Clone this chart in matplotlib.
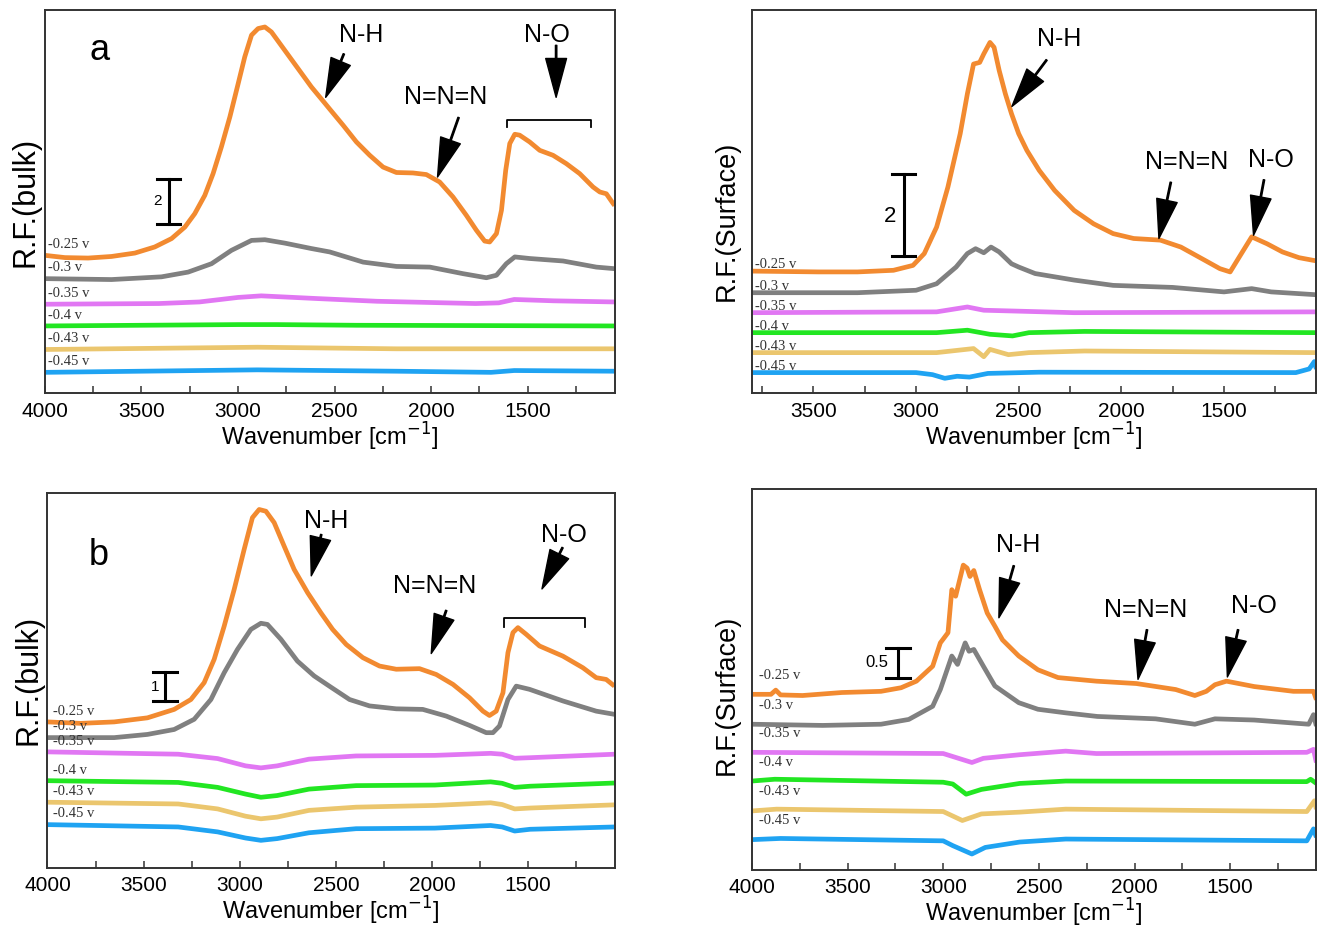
import matplotlib
matplotlib.use('Agg')
import matplotlib.pyplot as plt
import numpy as np

# potential labels and trace colours, top trace first
volts = ['-0.25 v', '-0.3 v', '-0.35 v', '-0.4 v', '-0.43 v', '-0.45 v']
colors = ['#f28a30', '#808080', '#e177f3', '#22e622', '#ebc66e', '#1fa3f2']

# (a) bulk, (wavenumber, R.F.) with stacking offset included
bulk_a_025 = [(4000, 6.10), (3896, 6.00), (3776, 5.98), (3655, 6.05), (3534, 6.20), (3431, 6.47),
              (3344, 6.84), (3275, 7.35), (3224, 7.94), (3172, 8.75), (3129, 9.71), (3086, 10.89),
              (3042, 12.22), (2999, 13.69), (2965, 14.87), (2930, 15.83), (2896, 16.12), (2861, 16.19),
              (2827, 15.97), (2758, 15.16), (2689, 14.35), (2620, 13.54), (2551, 12.83), (2525, 12.56),
              (2456, 11.85), (2387, 11.11), (2318, 10.52), (2249, 10.00), (2180, 9.76), (2094, 9.74),
              (2025, 9.67), (1956, 9.34), (1887, 8.68), (1818, 7.87), (1766, 7.21), (1723, 6.73),
              (1697, 6.69), (1662, 7.06), (1636, 8.09), (1614, 9.86), (1593, 11.04), (1567, 11.45),
              (1542, 11.41), (1490, 11.11), (1438, 10.74), (1369, 10.52), (1300, 10.15), (1231, 9.71),
              (1162, 9.12), (1127, 8.90), (1093, 8.82), (1058, 8.39), (1050, 8.30)]
bulk_a_030 = [(4000, 5.07), (3655, 5.03), (3396, 5.15), (3258, 5.36), (3137, 5.73), (3034, 6.32),
              (2930, 6.76), (2861, 6.79), (2758, 6.64), (2620, 6.40), (2525, 6.25), (2352, 5.80),
              (2180, 5.61), (2007, 5.58), (1835, 5.29), (1714, 5.11), (1662, 5.22), (1611, 5.73),
              (1567, 6.03), (1490, 5.96), (1317, 5.85), (1145, 5.58), (1050, 5.51)]
bulk_a_035 = [(4000, 3.94), (3410, 3.97), (3200, 4.04), (3000, 4.24), (2880, 4.31), (2590, 4.19),
              (2280, 4.07), (1770, 3.97), (1650, 4.00), (1570, 4.15), (1365, 4.09), (1050, 4.04)]
bulk_a_040 = [(4000, 2.98), (3000, 3.04), (2800, 3.04), (2385, 3.01), (1050, 2.98)]
bulk_a_043 = [(4000, 1.94), (2900, 2.04), (2180, 1.97), (1050, 1.97)]
bulk_a_045 = [(4000, 0.93), (2900, 1.04), (2180, 0.98), (1690, 0.93), (1570, 1.01), (1050, 0.98)]

# (a) surface
surf_a_025 = [(3800, 3.00), (3475, 2.98), (3285, 2.98), (3110, 3.02), (3015, 3.14), (2960, 3.43),
              (2900, 4.08), (2845, 5.06), (2785, 6.37), (2750, 7.35), (2720, 8.08), (2690, 8.12),
              (2670, 8.33), (2640, 8.61), (2620, 8.49), (2595, 7.92), (2565, 7.35), (2535, 6.86),
              (2500, 6.37), (2460, 5.96), (2400, 5.47), (2325, 4.98), (2230, 4.49), (2135, 4.16),
              (2040, 3.92), (1940, 3.80), (1810, 3.76), (1710, 3.59), (1595, 3.27), (1520, 3.06),
              (1470, 2.98), (1425, 3.35), (1365, 3.84), (1290, 3.67), (1215, 3.47), (1135, 3.33),
              (1050, 3.25)]
surf_a_030 = [(3800, 2.47), (3285, 2.47), (3000, 2.53), (2900, 2.69), (2805, 3.10), (2750, 3.43),
              (2710, 3.55), (2670, 3.45), (2635, 3.59), (2595, 3.47), (2535, 3.18), (2500, 3.10),
              (2420, 2.94), (2230, 2.78), (2040, 2.65), (1750, 2.60), (1500, 2.49), (1365, 2.57),
              (1270, 2.49), (1050, 2.42)]
surf_a_035 = [(3800, 1.98), (2900, 2.00), (2750, 2.12), (2670, 2.04), (2520, 2.02), (2230, 1.98),
              (1050, 2.00)]
surf_a_040 = [(3800, 1.49), (2900, 1.49), (2750, 1.55), (2640, 1.45), (2530, 1.41), (2450, 1.49),
              (2180, 1.52), (1050, 1.49)]
surf_a_043 = [(3800, 1.00), (2900, 1.00), (2720, 1.10), (2670, 0.90), (2640, 1.08), (2550, 0.95),
              (2450, 1.00), (2180, 1.04), (1050, 1.00)]
surf_a_045 = [(3800, 0.51), (3000, 0.51), (2920, 0.46), (2860, 0.37), (2800, 0.42), (2740, 0.40),
              (2650, 0.49), (2400, 0.52), (1150, 0.51), (1085, 0.60), (1060, 0.78), (1050, 0.60)]

# (b) bulk
bulk_b_025 = [(4000, 5.01), (3827, 4.96), (3653, 5.01), (3480, 5.15), (3341, 5.44), (3254, 5.78),
              (3185, 6.36), (3133, 7.16), (3081, 8.30), (3029, 9.56), (2977, 10.94), (2934, 12.03),
              (2899, 12.31), (2864, 12.25), (2821, 11.86), (2769, 11.05), (2717, 10.25), (2647, 9.45),
              (2578, 8.76), (2517, 8.19), (2446, 7.67), (2360, 7.22), (2273, 6.93), (2186, 6.82),
              (2065, 6.84), (1978, 6.64), (1891, 6.30), (1805, 5.84), (1735, 5.38), (1701, 5.23),
              (1666, 5.38), (1631, 6.01), (1605, 7.39), (1579, 8.08), (1553, 8.25), (1510, 8.02),
              (1441, 7.62), (1319, 7.27), (1215, 6.87), (1146, 6.53), (1094, 6.47), (1051, 6.24)]
bulk_b_030 = [(4000, 4.47), (3653, 4.47), (3480, 4.58), (3341, 4.75), (3237, 5.10), (3150, 5.78),
              (3081, 6.70), (3012, 7.50), (2942, 8.19), (2890, 8.40), (2856, 8.36), (2786, 7.85),
              (2700, 7.10), (2613, 6.59), (2525, 6.20), (2429, 5.78), (2325, 5.56), (2186, 5.46),
              (2048, 5.44), (1926, 5.21), (1805, 4.89), (1718, 4.64), (1683, 4.64), (1649, 4.87),
              (1605, 5.78), (1562, 6.24), (1493, 6.13), (1319, 5.73), (1146, 5.38), (1051, 5.27)]
bulk_b_035 = [(4000, 3.98), (3320, 3.90), (3115, 3.75), (2970, 3.50), (2890, 3.43), (2805, 3.50),
              (2640, 3.73), (2395, 3.84), (1985, 3.86), (1695, 3.93), (1635, 3.90), (1570, 3.76),
              (1490, 3.78), (1050, 3.90)]
bulk_b_040 = [(4000, 2.99), (3320, 2.93), (3115, 2.76), (2970, 2.53), (2890, 2.42), (2805, 2.48),
              (2640, 2.70), (2395, 2.82), (1985, 2.84), (1695, 2.95), (1635, 2.90), (1570, 2.76),
              (1490, 2.80), (1050, 2.91)]
bulk_b_043 = [(4000, 2.25), (3320, 2.19), (3115, 2.02), (2970, 1.77), (2890, 1.68), (2805, 1.74),
              (2640, 1.97), (2395, 2.08), (1985, 2.14), (1695, 2.23), (1635, 2.17), (1570, 2.02),
              (1490, 2.05), (1050, 2.16)]
bulk_b_045 = [(4000, 1.48), (3320, 1.40), (3115, 1.23), (2970, 1.02), (2890, 0.94), (2805, 1.00),
              (2640, 1.20), (2395, 1.34), (1985, 1.36), (1695, 1.45), (1635, 1.40), (1570, 1.26),
              (1490, 1.32), (1050, 1.40)]

# (b) surface
surf_b_025 = [(4000, 2.93), (3900, 2.93), (3875, 3.00), (3850, 2.92), (3735, 2.91), (3530, 2.96),
              (3325, 2.98), (3220, 3.04), (3140, 3.15), (3055, 3.40), (3015, 3.79), (2975, 3.96),
              (2955, 4.68), (2935, 4.57), (2895, 5.09), (2875, 5.04), (2860, 4.90), (2840, 5.00),
              (2810, 4.68), (2770, 4.29), (2730, 4.07), (2690, 3.84), (2605, 3.57), (2505, 3.34),
              (2400, 3.21), (2200, 3.15), (1990, 3.11), (1785, 3.01), (1685, 2.91), (1625, 2.98),
              (1580, 3.09), (1520, 3.15), (1375, 3.06), (1170, 2.98), (1065, 2.98), (1050, 2.84)]
surf_b_030 = [(4000, 2.43), (3630, 2.41), (3325, 2.43), (3180, 2.51), (3055, 2.73), (3015, 3.01),
              (2955, 3.57), (2925, 3.43), (2885, 3.79), (2865, 3.65), (2840, 3.68), (2790, 3.40),
              (2730, 3.07), (2605, 2.79), (2505, 2.68), (2360, 2.62), (2195, 2.56), (1890, 2.52),
              (1685, 2.43), (1580, 2.52), (1375, 2.50), (1090, 2.43), (1065, 2.59), (1050, 2.40)]
surf_b_035 = [(4000, 1.96), (3000, 1.94), (2930, 1.87), (2850, 1.79), (2790, 1.86), (2600, 1.92),
              (2360, 1.98), (2200, 1.94), (1100, 1.96), (1065, 2.01), (1050, 1.79)]
surf_b_040 = [(4000, 1.48), (3880, 1.51), (3000, 1.46), (2950, 1.43), (2880, 1.26), (2800, 1.34),
              (2600, 1.44), (2360, 1.48), (1100, 1.47), (1080, 1.51), (1050, 1.44)]
surf_b_043 = [(4000, 0.98), (3870, 1.01), (3000, 0.97), (2900, 0.82), (2800, 0.93), (2600, 0.96),
              (2360, 1.01), (1100, 0.97), (1060, 1.15), (1050, 1.01)]
surf_b_045 = [(4000, 0.50), (3850, 0.52), (3000, 0.48), (2950, 0.40), (2850, 0.26), (2780, 0.37),
              (2600, 0.46), (2360, 0.51), (1100, 0.48), (1065, 0.68), (1050, 0.54)]

SANS = 'Liberation Sans'
SERIF = 'Liberation Serif'

fig = plt.figure(figsize=(13.19, 9.30), dpi=100)


def panel(rect, curves, xlim, ylim, ylabel, ysize, lab_off, ylab_y=None):
    ax = fig.add_axes(rect)
    for pts, c, v in zip(curves, colors, volts):
        wn, rf = np.array(pts).T
        ax.plot(wn, rf, color=c, lw=3.4, solid_joinstyle='round', solid_capstyle='butt')
        ax.annotate(v, xy=(0, rf[0]), xycoords=('axes fraction', 'data'),
                    xytext=lab_off, textcoords='offset points',
                    family=SERIF, fontsize=10.5, color='#333333', va='bottom', ha='left')
    ax.set_xlim(*xlim)
    ax.set_ylim(*ylim)
    ax.set_yticks([])
    ax.set_xticks([t for t in range(4000, 1000, -500) if xlim[1] <= t <= xlim[0]])
    ax.set_xticks([t for t in range(3750, 1000, -500) if xlim[1] <= t <= xlim[0]], minor=True)
    ax.tick_params(axis='x', which='both', direction='in', length=5, width=1.1,
                   color='#333333', pad=6, labelsize=15)
    for lab in ax.get_xticklabels():
        lab.set_family(SANS)
    for s in ax.spines.values():
        s.set_linewidth(1.4)
        s.set_color('#333333')
    ax.set_xlabel('Wavenumber [cm$^{-1}$]', family=SANS, fontsize=17, labelpad=0)
    ax.set_ylabel(ylabel, family=SANS, fontsize=ysize, labelpad=3)
    if ylab_y is not None:
        ax.yaxis.set_label_coords(-0.022, ylab_y)
    return ax


def arrow(ax, tail, tip):
    ax.annotate('', xy=tip, xytext=tail,
                arrowprops=dict(facecolor='k', edgecolor='k', width=1.0,
                                headwidth=15, headlength=28, shrink=0))


def scale_bar(ax, x, y0, y1, dx, text, fs, tx, ty):
    ax.plot([x, x], [y0, y1], color='k', lw=2.2)
    ax.plot([x - dx, x + dx], [y0, y0], color='k', lw=2.2)
    ax.plot([x - dx, x + dx], [y1, y1], color='k', lw=2.2)
    ax.text(tx, ty, text, family=SANS, fontsize=fs, ha='center', va='center')


def bracket(ax, x0, x1, y, ylo):
    ax.plot([x0, x0, x1, x1], [ylo, y, y, ylo], color='k', lw=1.3)


def label(ax, x, y, s, fs=18):
    ax.text(x, y, s, family=SANS, fontsize=fs, ha='center', va='center')


# (a) bulk
ax = panel([0.034, 0.577, 0.432, 0.412],
           [bulk_a_025, bulk_a_030, bulk_a_035, bulk_a_040, bulk_a_043, bulk_a_045],
           (4000, 1050), (0, 16.93), 'R.F.(bulk)', 22, (2, 3))
label(ax, 3717, 15.16, 'a', 26)
label(ax, 2362, 15.82, 'N-H')
arrow(ax, (2452, 15.0), (2546, 13.08))
label(ax, 1926, 13.08, 'N=N=N')
arrow(ax, (1858, 12.19), (1967, 9.56))
label(ax, 1398, 15.82, 'N-O')
arrow(ax, (1353, 15.38), (1353, 13.08))
bracket(ax, 1609, 1172, 12.07, 11.75)
scale_bar(ax, 3359, 7.48, 9.48, 61, '2', 11, 3418, 8.49)

# (a) surface
ax = panel([0.570, 0.577, 0.428, 0.412],
           [surf_a_025, surf_a_030, surf_a_035, surf_a_040, surf_a_043, surf_a_045],
           (3800, 1050), (0, 9.40), 'R.F.(Surface)', 19.5, (2, 0), 0.45)
label(ax, 2303, 8.69, 'N-H')
arrow(ax, (2364, 8.18), (2533, 7.04))
label(ax, 1683, 5.67, 'N=N=N')
arrow(ax, (1759, 5.18), (1817, 3.80))
label(ax, 1270, 5.73, 'N-O')
arrow(ax, (1305, 5.24), (1356, 3.88))
scale_bar(ax, 3061, 3.37, 5.37, 58, '2', 16, 3125, 4.34)

# (b) bulk
ax = panel([0.036, 0.067, 0.430, 0.403],
           [bulk_b_025, bulk_b_030, bulk_b_035, bulk_b_040, bulk_b_043, bulk_b_045],
           (4000, 1050), (0, 12.88), 'R.F.(bulk)', 22, (4, 3))
label(ax, 3733, 10.72, 'b', 26)
label(ax, 2549, 11.91, 'N-H')
arrow(ax, (2576, 11.45), (2628, 10.03))
label(ax, 1984, 9.69, 'N=N=N')
arrow(ax, (1926, 8.84), (2004, 7.36))
label(ax, 1315, 11.45, 'N-O')
arrow(ax, (1321, 11.0), (1428, 9.58))
bracket(ax, 1624, 1202, 8.59, 8.27)
scale_bar(ax, 3387, 5.72, 6.72, 62, '1', 11, 3440, 6.2)

# (b) surface
ax = panel([0.570, 0.065, 0.428, 0.409],
           [surf_b_025, surf_b_030, surf_b_035, surf_b_040, surf_b_043, surf_b_045],
           (4000, 1050), (0, 6.36), 'R.F.(Surface)', 19.5, (5, 9), 0.458)
label(ax, 2607, 5.43, 'N-H')
arrow(ax, (2631, 5.08), (2709, 4.21))
label(ax, 1941, 4.34, 'N=N=N')
arrow(ax, (1935, 4.01), (1982, 3.18))
label(ax, 1377, 4.41, 'N-O')
arrow(ax, (1459, 4.01), (1515, 3.22))
scale_bar(ax, 3236, 3.21, 3.71, 61, '0.5', 12, 3345, 3.46)

fig.savefig('out.png', dpi=100)
